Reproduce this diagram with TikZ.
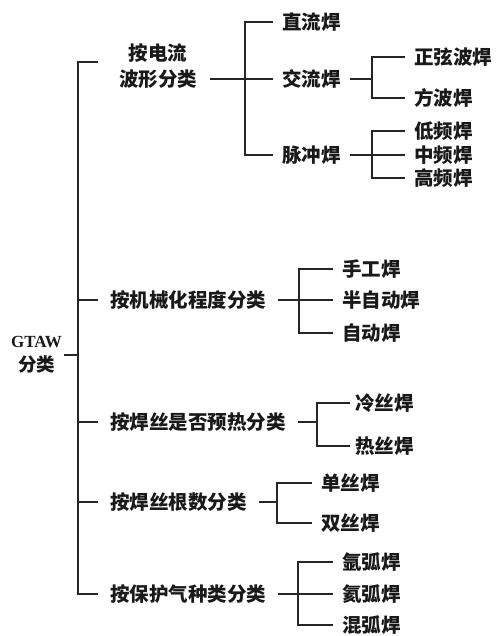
\documentclass[tikz,border=0pt]{standalone}
\usepackage{fontspec}
\setmainfont{Liberation Serif}
\newfontfamily\cjk{Noto Sans CJK SC}
\tikzset{
 ln/.style={line width=1.2pt, black!85},
 lab/.style={font=\cjk\bfseries\fontsize{19.5}{26}\selectfont, inner ysep=0pt, anchor=west, text=black!90},
 l1/.style={lab, inner xsep=12pt},
 l2/.style={lab, inner xsep=9pt},
 l2n/.style={lab, inner xsep=5pt},
}
\begin{document}
\begin{tikzpicture}[x=1pt,y=-1pt]
\useasboundingbox (0,0) rectangle (496,636);
\fill[white] (0,0) rectangle (496,636);
% root
\node[font=\bfseries\fontsize{17}{24}\selectfont, align=center, inner sep=2pt, text=black!90] (root) at (36.5,355) {GTAW\\{\cjk\bfseries\fontsize{18.5}{24}\selectfont 分类}};
\coordinate (jR) at (78,355);
\draw[ln] (root.east) -- (jR);
% level 1
\node[lab, anchor=center, align=center, inner sep=0pt] (c1) at (158,66) {按电流\\波形分类};
\coordinate (c1w) at (98,62);
\coordinate (c1e) at (210,79);
\node[l1] (c2) at (98,300) {按机械化程度分类};
\node[l1] (c3) at (98,422) {按焊丝是否预热分类};
\node[l1] (c4) at (98,502) {按焊丝根数分类};
\node[l1] (c5) at (98,594) {按保护气种类分类};
\draw[ln] (jR) |- (c1w);
\draw[ln] (jR) |- (c2.west);
\draw[ln] (jR) |- (c3.west);
\draw[ln] (jR) |- (c4.west);
\draw[ln] (jR) |- (c5.west);
% group 1
\coordinate (j1) at (245,79);
\draw[ln] (c1e) -- (j1);
\node[l2] (zl) at (273,22) {直流焊};
\node[l2] (jl) at (273,79) {交流焊};
\node[l2] (mc) at (273,155) {脉冲焊};
\draw[ln] (j1) |- (zl.west);
\draw[ln] (j1) |- (jl.west);
\draw[ln] (j1) |- (mc.west);
\coordinate (j11) at (372,79);
\draw[ln] (jl.east) -- (j11);
\node[l2] (zx) at (405,57) {正弦波焊};
\node[l2] (fb) at (405,98) {方波焊};
\draw[ln] (j11) |- (zx.west);
\draw[ln] (j11) |- (fb.west);
\coordinate (j12) at (372,155);
\draw[ln] (mc.east) -- (j12);
\node[l2] (dp) at (405,131) {低频焊};
\node[l2] (zp) at (405,155) {中频焊};
\node[l2] (gp) at (405,178) {高频焊};
\draw[ln] (j12) |- (dp.west);
\draw[ln] (j12) |- (zp.west);
\draw[ln] (j12) |- (gp.west);
% group 2
\coordinate (j2) at (299,300);
\draw[ln] (c2.east) -- (j2);
\node[l2] (sg) at (333,269) {手工焊};
\node[l2] (bz) at (333,300) {半自动焊};
\node[l2] (zd) at (333,333) {自动焊};
\draw[ln] (j2) |- (sg.west);
\draw[ln] (j2) |- (bz.west);
\draw[ln] (j2) |- (zd.west);
% group 3
\coordinate (j3) at (317,422);
\draw[ln] (c3.east) -- (j3);
\node[l2n] (ls) at (350,403) {冷丝焊};
\node[l2n] (rs) at (350,446) {热丝焊};
\draw[ln] (j3) |- (ls.west);
\draw[ln] (j3) |- (rs.west);
% group 4
\coordinate (j4) at (277,502);
\draw[ln] (c4.east) -- (j4);
\node[l2] (ds) at (312,483) {单丝焊};
\node[l2] (ss) at (312,523) {双丝焊};
\draw[ln] (j4) |- (ds.west);
\draw[ln] (j4) |- (ss.west);
% group 5
\coordinate (j5) at (298,594);
\draw[ln] (c5.east) -- (j5);
\node[l2] (ya) at (333,562) {氩弧焊};
\node[l2] (ha) at (333,594) {氦弧焊};
\node[l2] (hh) at (333,625) {混弧焊};
\draw[ln] (j5) |- (ya.west);
\draw[ln] (j5) |- (ha.west);
\draw[ln] (j5) |- (hh.west);
\end{tikzpicture}
\end{document}
